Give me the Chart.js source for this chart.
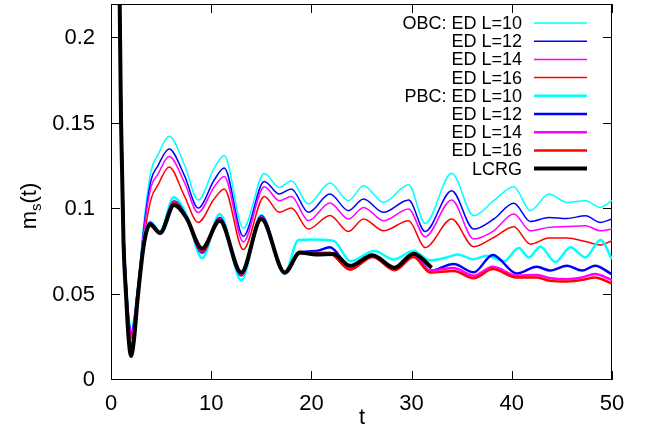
<!DOCTYPE html>
<html>
<head>
<meta charset="utf-8">
<script src="https://cdn.jsdelivr.net/npm/chart.js@4.4.0/dist/chart.umd.min.js"></script>
<style>
  html, body { margin: 0; padding: 0; background: #fff; }
  #c { display: block; }
</style>
</head>
<body>
<canvas id="c" width="650" height="429"></canvas>
<script>
// axis ticks
const xTicks = [0, 10, 20, 30, 40, 50];
const yTicks = [0, 0.05, 0.1, 0.15, 0.2];
const yTickLabels = ['0', '0.05', '0.1', '0.15', '0.2'];

// legend entries, in plotting order
const seriesNames = ['OBC: ED L=10', 'ED L=12', 'ED L=14', 'ED L=16',
                     'PBC: ED L=10', 'ED L=12', 'ED L=14', 'ED L=16', 'LCRG'];

// OBC exact diagonalization (shared time grid)
const tObc = [0, 0.5, 0.85, 1.0, 1.25, 1.5, 1.75, 2.0, 2.3, 2.65, 3.3, 4.0, 4.65, 5.8,
              7.3, 8.7, 10.3, 11.3, 13.2, 15.3, 16.8, 18.0, 19.7, 21.85, 23.7, 25.2, 27.2,
              29.7, 31.35, 34.0, 36.2, 38.2, 40.2, 41.85, 43.7, 45.5, 47.35, 48.85, 50];
const obcL10 = [0.5, 0.40, 0.23, 0.155, 0.085, 0.056, 0.037, 0.028, 0.035, 0.052, 0.093, 0.1225, 0.1313, 0.1426,
                0.1264, 0.1053, 0.124, 0.1313, 0.0888, 0.1208, 0.1127, 0.1166, 0.103, 0.1152, 0.1049, 0.1137, 0.1039,
                0.1143, 0.0916, 0.1209, 0.0961, 0.1049, 0.1131, 0.0991, 0.1088, 0.1039, 0.1049, 0.101, 0.1049];
const obcL12 = [0.5, 0.40, 0.23, 0.155, 0.085, 0.055, 0.035, 0.026, 0.033, 0.051, 0.09, 0.117, 0.125, 0.1352,
                0.120, 0.1006, 0.117, 0.1241, 0.0841, 0.1162, 0.1088, 0.1118, 0.0981, 0.1088, 0.0991, 0.1059, 0.0981,
                0.1053, 0.0869, 0.1108, 0.0883, 0.0942, 0.1034, 0.0928, 0.0951, 0.0945, 0.0961, 0.0922, 0.0942];
const obcL14 = [0.5, 0.40, 0.23, 0.155, 0.085, 0.054, 0.034, 0.0245, 0.032, 0.05, 0.088, 0.113, 0.120, 0.1307,
                0.116, 0.098, 0.113, 0.1191, 0.0808, 0.113, 0.1049, 0.1074, 0.0932, 0.1036, 0.0942, 0.101, 0.0932,
                0.1001, 0.0838, 0.1053, 0.0825, 0.0873, 0.0971, 0.0873, 0.0893, 0.0898, 0.0903, 0.0873, 0.0883];
const obcL16 = [0.5, 0.40, 0.23, 0.155, 0.084, 0.052, 0.03, 0.019, 0.028, 0.047, 0.083, 0.106, 0.1137, 0.1247,
                0.108, 0.0922, 0.106, 0.1118, 0.0763, 0.1074, 0.0981, 0.1006, 0.0883, 0.0963, 0.0869, 0.0942, 0.0873,
                0.0932, 0.0775, 0.0942, 0.078, 0.0834, 0.0897, 0.0795, 0.0831, 0.0831, 0.081, 0.079, 0.0815];

// PBC L=10
const tPbc10 = [0, 0.5, 0.85, 1.0, 1.25, 1.5, 1.75, 2.0, 2.3, 2.65, 3.3, 3.9, 4.9,
                6.25, 7.5, 9.1, 10.85, 13.0, 15.0, 17.3, 18.7, 20.0, 22.2, 23.9, 26.3, 28.2, 30.2, 31.85,
                33.5, 34.6, 36.2, 37.5, 39.2, 40.7, 41.7, 42.85, 44.35, 45.85, 47.35, 48.85, 50];
const pbcL10 = [0.5, 0.40, 0.23, 0.155, 0.085, 0.056, 0.037, 0.028, 0.035, 0.052, 0.083, 0.0925, 0.087,
                0.1069, 0.097, 0.0713, 0.0971, 0.0584, 0.0965, 0.062, 0.0819, 0.0822, 0.0815, 0.0695, 0.0755, 0.0705, 0.0755, 0.0700,
                0.0717, 0.0735, 0.0707, 0.0727, 0.0695, 0.0772, 0.0717, 0.078, 0.069, 0.0776, 0.0717, 0.0819, 0.0707];

// PBC L=12,14,16 (shared time grid)
const tPbc = [0, 0.5, 0.85, 1.0, 1.25, 1.5, 1.75, 2.0, 2.3, 2.65, 3.3, 3.9, 4.9,
              6.3, 7.5, 9.1, 10.85, 13.0, 15.0, 17.35, 18.85, 20.5, 21.85, 23.85, 26.1, 28.3, 30.2, 31.85,
              34.2, 36.2, 38.1, 40.5, 42.5, 43.85, 45.5, 47.0, 48.3, 50];
const pbcL12 = [0.5, 0.40, 0.23, 0.155, 0.085, 0.055, 0.035, 0.026, 0.033, 0.051, 0.082, 0.092, 0.0865,
                0.1045, 0.0955, 0.0745, 0.0948, 0.0612, 0.0958, 0.0625, 0.0745, 0.0755, 0.0776, 0.0665, 0.0730, 0.0655, 0.0735, 0.0639,
                0.0678, 0.063, 0.0732, 0.0623, 0.0662, 0.064, 0.0668, 0.064, 0.0668, 0.0618];
const pbcL14 = [0.5, 0.40, 0.23, 0.155, 0.085, 0.054, 0.034, 0.0245, 0.032, 0.05, 0.081, 0.0915, 0.086,
                0.104, 0.0952, 0.0752, 0.0942, 0.0618, 0.0952, 0.0625, 0.0745, 0.0745, 0.0745, 0.065, 0.0722, 0.0648, 0.0725, 0.0641,
                0.0655, 0.061, 0.0662, 0.061, 0.0615, 0.0595, 0.059, 0.06, 0.062, 0.0584];
const pbcL16 = [0.5, 0.40, 0.23, 0.155, 0.084, 0.052, 0.03, 0.019, 0.028, 0.047, 0.08, 0.091, 0.0858,
                0.1035, 0.095, 0.0755, 0.0938, 0.0622, 0.0945, 0.0625, 0.0742, 0.074, 0.0738, 0.0645, 0.072, 0.0642, 0.072, 0.0629,
                0.0638, 0.0596, 0.0649, 0.06, 0.06, 0.058, 0.0576, 0.0585, 0.06, 0.0564];

// LCRG
const tLcrg = [0, 0.5, 0.85, 1.0, 1.25, 1.5, 1.75, 2.0, 2.3, 2.65, 3.3, 3.9, 4.9,
               6.3, 7.5, 9.1, 10.85, 13.0, 15.0, 17.35, 18.85, 20.5, 22.2, 23.85, 26.1, 28.3, 30.2, 32.0];
const lcrg = [0.5, 0.40, 0.23, 0.152, 0.08, 0.05, 0.025, 0.014, 0.024, 0.047, 0.08, 0.091, 0.086,
              0.1024, 0.0951, 0.077, 0.0932, 0.0629, 0.0942, 0.0629, 0.0746, 0.0735, 0.0737, 0.0668, 0.073, 0.0657, 0.0739, 0.0657];

const FONT = 'Liberation Sans, Arial, sans-serif';

const toPoints = (ts, vs) => ts.map((t, i) => ({ x: t, y: vs[i] }));

const makeSet = (name, ts, vs, color, width) => ({
    label: name,
    data: toPoints(ts, vs),
    borderColor: color,
    backgroundColor: color,
    borderWidth: width,
    pointRadius: 0,
    fill: false,
    cubicInterpolationMode: 'monotone'
});

const datasets = [
    makeSet(seriesNames[0], tObc, obcL10, '#00ffff', 1.5),
    makeSet(seriesNames[1], tObc, obcL12, '#0000ff', 1.5),
    makeSet(seriesNames[2], tObc, obcL14, '#ff00ff', 1.5),
    makeSet(seriesNames[3], tObc, obcL16, '#ff0000', 1.5),
    makeSet(seriesNames[4], tPbc10, pbcL10, '#00ffff', 2.5),
    makeSet(seriesNames[5], tPbc, pbcL12, '#0000ff', 2.5),
    makeSet(seriesNames[6], tPbc, pbcL14, '#ff00ff', 2.5),
    makeSet(seriesNames[7], tPbc, pbcL16, '#ff0000', 2.5),
    makeSet(seriesNames[8], tLcrg, lcrg, '#000000', 4)
];
// later series drawn on top, as in the original plot
datasets.forEach((d, i) => { d.order = datasets.length - i; });

// frame with inward ticks on all four sides, axis titles and key
const framePlugin = {
    id: 'frame',
    beforeDatasetsDraw(chart) {
        const { ctx, chartArea: a, scales } = chart;
        ctx.save();
        ctx.strokeStyle = '#000';
        ctx.lineWidth = 1;
        ctx.beginPath();
        xTicks.forEach(v => {
            const x = Math.round(scales.x.getPixelForValue(v)) + 0.5;
            ctx.moveTo(x, a.bottom); ctx.lineTo(x, a.bottom - 9);
            ctx.moveTo(x, a.top); ctx.lineTo(x, a.top + 9);
        });
        yTicks.forEach(v => {
            const y = Math.round(scales.y.getPixelForValue(v)) - 0.5;
            ctx.moveTo(a.left, y); ctx.lineTo(a.left + 9, y);
            ctx.moveTo(a.right, y); ctx.lineTo(a.right - 9, y);
        });
        ctx.stroke();
        ctx.strokeRect(a.left + 0.5, a.top + 0.5, a.right - a.left - 1, a.bottom - a.top - 1);
        ctx.restore();
    },
    afterDraw(chart) {
        const { ctx } = chart;
        ctx.save();
        ctx.fillStyle = '#000';

        // x title
        ctx.font = '22px ' + FONT;
        ctx.textAlign = 'center';
        ctx.textBaseline = 'alphabetic';
        ctx.fillText('t', 362, 424);

        // y title m_s(t)
        ctx.translate(36, 206);
        ctx.rotate(-Math.PI / 2);
        const big = '22px ' + FONT, small = '15px ' + FONT;
        ctx.font = big;
        const wm = ctx.measureText('m').width;
        const wp = ctx.measureText('(t)').width;
        ctx.font = small;
        const ws = ctx.measureText('s').width;
        const x0 = -(wm + ws + wp) / 2;
        ctx.textAlign = 'left';
        ctx.font = big;
        ctx.fillText('m', x0, 0);
        ctx.font = small;
        ctx.fillText('s', x0 + wm, 5);
        ctx.font = big;
        ctx.fillText('(t)', x0 + wm + ws, 0);
        ctx.restore();

        // key
        ctx.save();
        ctx.font = '18px ' + FONT;
        ctx.textAlign = 'right';
        ctx.textBaseline = 'middle';
        chart.data.datasets.forEach((d, i) => {
            const y = 23 + i * 18.2;
            ctx.fillStyle = '#000';
            ctx.fillText(d.label, 522, y + 1);
            ctx.strokeStyle = d.borderColor;
            ctx.lineWidth = d.borderWidth;
            ctx.beginPath();
            ctx.moveTo(534, y);
            ctx.lineTo(587, y);
            ctx.stroke();
        });
        ctx.restore();
    }
};

new Chart(document.getElementById('c'), {
    type: 'line',
    data: { datasets },
    options: {
        responsive: false,
        animation: false,
        devicePixelRatio: 1,
        layout: { padding: { left: 0, right: 38, top: 4, bottom: 0 } },
        plugins: { legend: { display: false }, tooltip: { enabled: false } },
        scales: {
            x: {
                type: 'linear',
                min: 0, max: 50,
                afterBuildTicks: s => { s.ticks = xTicks.map(v => ({ value: v })); },
                afterFit: s => { s.height = 49; s.paddingLeft = 0; s.paddingRight = 0; },
                grid: { display: false, drawTicks: false },
                border: { display: false },
                ticks: { color: '#000', font: { family: FONT, size: 22 }, padding: 11, maxRotation: 0 }
            },
            y: {
                type: 'linear',
                min: 0, max: 0.22,
                afterBuildTicks: s => { s.ticks = yTicks.map(v => ({ value: v })); },
                afterFit: s => { s.width = 111; s.paddingTop = 0; s.paddingBottom = 0; },
                grid: { display: false, drawTicks: false },
                border: { display: false },
                ticks: {
                    color: '#000', font: { family: FONT, size: 22 }, padding: 16,
                    callback: v => yTickLabels[yTicks.indexOf(v)]
                }
            }
        }
    },
    plugins: [framePlugin]
});
</script>
</body>
</html>
